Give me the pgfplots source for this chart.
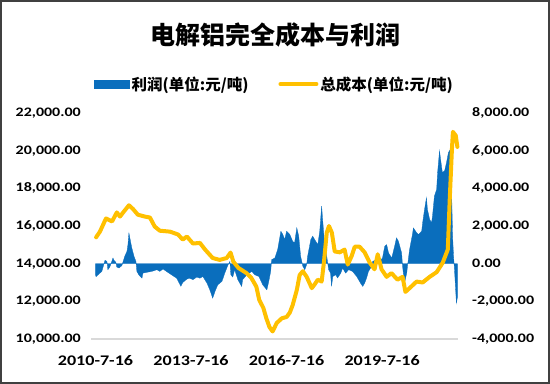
\documentclass[border=0pt]{standalone}
\usepackage{pgfplots}
\pgfplotsset{compat=1.18}
\usepackage{pgfplotstable}
\usepackage{fontspec}
\setmainfont{Carlito}[FakeStretch=1.23]
\newfontfamily\cjk{Noto Sans CJK SC}
\definecolor{barblue}{HTML}{0A6EBD}
\definecolor{lineyellow}{HTML}{FFC000}
\definecolor{framegray}{HTML}{404040}
\definecolor{axisgray}{HTML}{D9D9D9}

\pgfplotstableread{
x y
2010.54 -600
2010.56 -690
2010.62 -590
2010.74 -410
2010.84 180
2010.90 120
2010.93 -320
2010.99 -180
2011.09 300
2011.12 180
2011.18 70
2011.21 -180
2011.28 -230
2011.37 -100
2011.40 70
2011.46 390
2011.53 660
2011.56 1010
2011.59 1630
2011.65 1100
2011.68 840
2011.75 390
2011.81 120
2011.84 -410
2011.90 -590
2012.00 -770
2012.03 -500
2012.15 -460
2012.31 -410
2012.47 -320
2012.56 -410
2012.66 -280
2012.81 -460
2012.97 -640
2013.09 -770
2013.22 -1200
2013.28 -1000
2013.41 -820
2013.50 -770
2013.60 -850
2013.72 -710
2013.82 -770
2013.91 -680
2014.04 -1030
2014.13 -1390
2014.22 -1830
2014.29 -1480
2014.38 -1120
2014.51 -940
2014.60 -500
2014.69 -110
2014.76 120
2014.79 -590
2014.85 -710
2014.91 -320
2015.01 -850
2015.13 -1210
2015.16 -850
2015.29 -590
2015.45 -410
2015.54 -590
2015.67 -680
2015.79 -1120
2015.92 -1390
2015.98 -940
2016.04 -410
2016.07 210
2016.17 300
2016.26 750
2016.36 1720
2016.42 1550
2016.48 1280
2016.54 1720
2016.64 1550
2016.73 1190
2016.79 1100
2016.86 1900
2016.92 1460
2016.98 390
2017.05 -140
2017.11 -320
2017.17 -50
2017.20 390
2017.30 1280
2017.36 1460
2017.42 1280
2017.52 1010
2017.58 1720
2017.64 3060
2017.67 2350
2017.73 1100
2017.80 390
2017.86 -320
2017.92 -500
2017.95 -1210
2017.99 -680
2018.08 -590
2018.14 -760
2018.24 -500
2018.30 -230
2018.39 -500
2018.49 -320
2018.61 -410
2018.74 -680
2018.86 -1030
2018.93 -1210
2018.99 -1030
2019.05 -760
2019.11 -410
2019.21 -140
2019.24 120
2019.37 210
2019.46 120
2019.55 300
2019.62 920
2019.68 1010
2019.74 570
2019.84 300
2019.93 920
2019.99 1370
2020.05 1190
2020.15 570
2020.18 -140
2020.24 -1030
2020.31 -500
2020.34 -50
2020.40 750
2020.49 1550
2020.52 1900
2020.62 1640
2020.68 1550
2020.78 1720
2020.81 2170
2020.87 2880
2020.93 3500
2020.96 2880
2021.03 2350
2021.09 2170
2021.12 2530
2021.18 3590
2021.25 3950
2021.28 4840
2021.34 5990
2021.40 5190
2021.43 4840
2021.50 4930
2021.56 5370
2021.62 5900
2021.69 6100
2021.72 3760
2021.75 1460
2021.78 390
2021.81 -320
2021.87 -2100
2021.90 -1800
}\profit

\pgfplotstableread{
x y
2010.56 15400
2010.68 15700
2010.87 16400
2011.06 16240
2011.21 16720
2011.31 16500
2011.40 16700
2011.59 17100
2011.72 16900
2011.87 16600
2012.09 16500
2012.25 16450
2012.40 15970
2012.56 15750
2012.88 15700
2013.13 15550
2013.28 15280
2013.41 15440
2013.60 15070
2013.82 15100
2013.98 14750
2014.22 14300
2014.44 14200
2014.66 14300
2014.78 14590
2014.87 14100
2015.03 13770
2015.28 13500
2015.43 13250
2015.59 12780
2015.68 12080
2015.81 11650
2015.90 11120
2016.00 10640
2016.10 10400
2016.23 10850
2016.39 11100
2016.54 11170
2016.64 11400
2016.73 11800
2016.86 12600
2016.95 13400
2017.05 13600
2017.17 13300
2017.33 12700
2017.42 12900
2017.52 13150
2017.64 13050
2017.71 14050
2017.80 15650
2017.87 16000
2017.96 15650
2018.05 14650
2018.21 14600
2018.36 14750
2018.46 13950
2018.58 14400
2018.68 14900
2018.83 14900
2018.99 14600
2019.15 14050
2019.30 13700
2019.40 14500
2019.52 13700
2019.68 13300
2019.83 13500
2020.02 13150
2020.18 13300
2020.27 12500
2020.40 12700
2020.62 13050
2020.81 13000
2021.03 13300
2021.25 13550
2021.44 14050
2021.60 14750
2021.66 17400
2021.73 20100
2021.76 21000
2021.85 20800
2021.90 20200
}\cost

\begin{document}
\begin{tikzpicture}
\path[use as bounding box] (0bp,0bp) rectangle (550bp,384bp);
\draw[framegray, line width=1.5bp] (1bp,1bp) rectangle (549bp,383bp);
\node[font=\cjk\bfseries\fontsize{25bp}{28bp}\selectfont, text=black, inner sep=0pt] at (275bp,349bp) {电解铝完全成本与利润};

% profit (right axis)
\begin{axis}[
  at={(91bp,45bp)}, anchor=south west, scale only axis,
  width=367bp, height=226bp,
  xmin=2010.40, xmax=2021.92, ymin=-4000, ymax=8000,
  scaled ticks=false,
  axis line style={draw=none}, major tick length=0pt,
  xtick=\empty,
  ytick={-4000,-2000,0,2000,4000,6000,8000},
  yticklabels={{-4,000.00},{-2,000.00},{0.00},{2,000.00},{4,000.00},{6,000.00},{8,000.00}},
  ytick pos=right, yticklabel pos=right,
  yticklabel style={font=\fontsize{13bp}{15bp}\selectfont\bfseries, inner sep=0pt, anchor=west, xshift=14bp},
]
\addplot[fill=barblue, draw=barblue, line width=0.3bp] table[x=x,y=y] {\profit} \closedcycle;
\end{axis}

% cost (left axis)
\begin{axis}[
  at={(91bp,45bp)}, anchor=south west, scale only axis,
  width=367bp, height=226bp,
  xmin=2010.40, xmax=2021.92, ymin=10000, ymax=22000,
  scaled ticks=false,
  axis line style={draw=none}, major tick length=0pt,
  xtick={2010.54,2013.54,2016.54,2019.54},
  xticklabels={2010-7-16,2013-7-16,2016-7-16,2019-7-16},
  xticklabel style={font=\fontsize{14.7bp}{16bp}\selectfont\bfseries, inner sep=0pt, anchor=center, yshift=-22bp},
  ytick={10000,12000,14000,16000,18000,20000,22000},
  yticklabels={{10,000.00},{12,000.00},{14,000.00},{16,000.00},{18,000.00},{20,000.00},{22,000.00}},
  ytick pos=left, yticklabel pos=left,
  yticklabel style={font=\fontsize{13bp}{15bp}\selectfont\bfseries, inner sep=0pt, anchor=east, xshift=-10bp},
  legend columns=2,
  legend style={at={(0.5,1.128)}, anchor=center, draw=none, fill=none,
    font=\cjk\bfseries\fontsize{15.5bp}{17bp}\selectfont,
    /tikz/every even column/.append style={column sep=28bp}},
  clip=false,
]
\draw[axisgray, line width=1.2bp] (rel axis cs:0,0) -- (rel axis cs:1,0);
\addlegendimage{legend image code/.code={\fill[barblue] (0bp,-4bp) rectangle (35bp,4bp);}}
\addlegendentry{利润(单位:元/吨)}
\addplot[lineyellow, line width=4bp, line join=round, line cap=round,
  legend image code/.code={\draw[lineyellow, line width=4bp] (0bp,0bp) -- (36bp,0bp);}]
  table[x=x,y=y] {\cost};
\addlegendentry{总成本(单位:元/吨)}
\end{axis}
\end{tikzpicture}
\end{document}
